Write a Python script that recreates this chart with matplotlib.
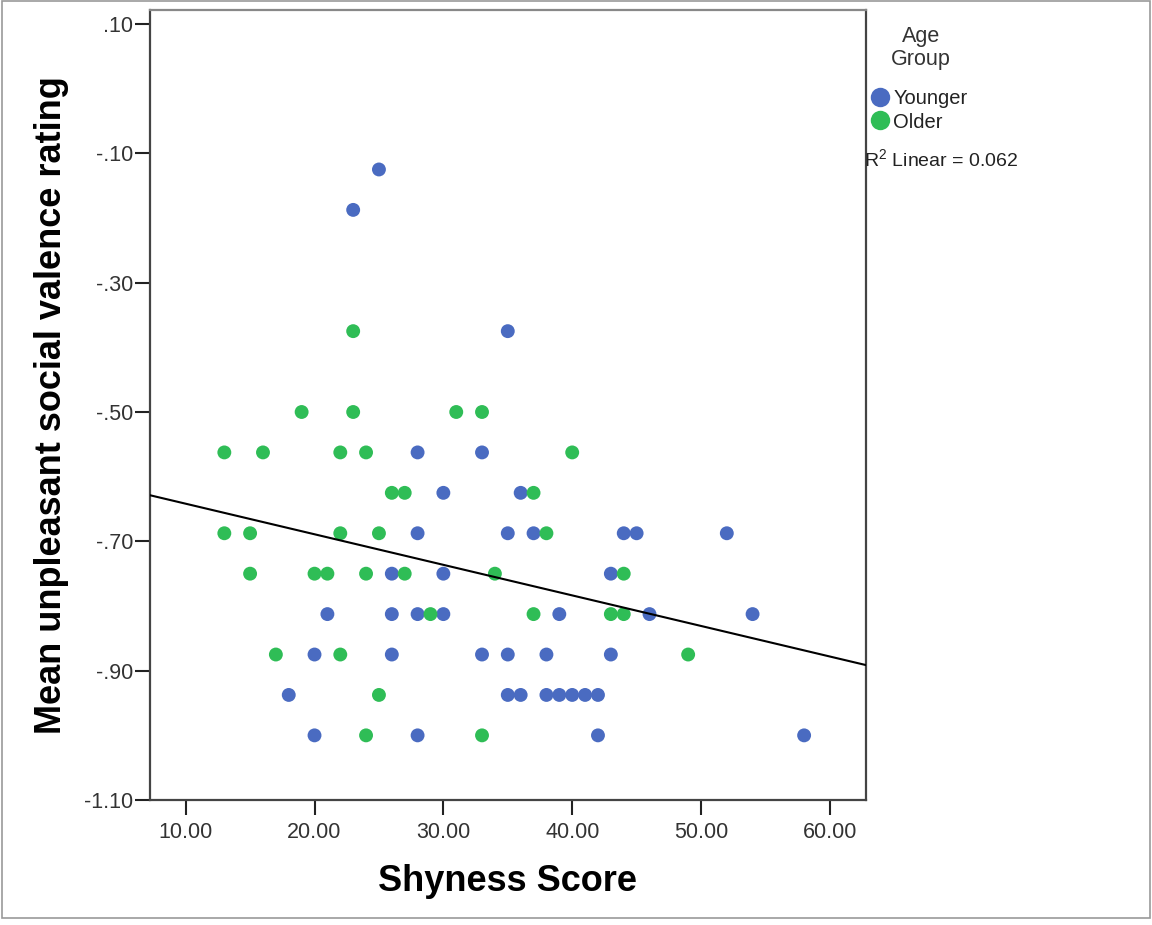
import numpy as np
import matplotlib
matplotlib.use('Agg')
import matplotlib.pyplot as plt
from matplotlib.lines import Line2D
from matplotlib.patches import Rectangle

plt.rcParams['font.family'] = ['Liberation Sans', 'DejaVu Sans']
plt.rcParams['mathtext.fontset'] = 'custom'
plt.rcParams['mathtext.rm'] = 'Liberation Sans'

# Younger group: shyness score vs mean unpleasant social valence rating
younger_x = [25, 23, 35,
             28, 33,
             30, 36,
             28, 35, 37, 44, 45, 52,
             26, 30, 43,
             21, 26, 28, 30, 39, 46, 54,
             20, 26, 33, 35, 38, 43,
             18, 35, 36, 38, 39, 40, 41, 42,
             20, 28, 42, 58]
younger_y = [-0.125, -0.1875, -0.375,
             -0.5625, -0.5625,
             -0.625, -0.625,
             -0.6875, -0.6875, -0.6875, -0.6875, -0.6875, -0.6875,
             -0.75, -0.75, -0.75,
             -0.8125, -0.8125, -0.8125, -0.8125, -0.8125, -0.8125, -0.8125,
             -0.875, -0.875, -0.875, -0.875, -0.875, -0.875,
             -0.9375, -0.9375, -0.9375, -0.9375, -0.9375, -0.9375, -0.9375, -0.9375,
             -1.0, -1.0, -1.0, -1.0]

# Older group
older_x = [23,
           19, 23, 31, 33,
           13, 16, 22, 24, 40,
           26, 27, 37,
           13, 15, 22, 25, 38,
           15, 20, 21, 24, 27, 34, 44,
           29, 37, 43, 44,
           17, 22, 49,
           25,
           24, 33]
older_y = [-0.375,
           -0.5, -0.5, -0.5, -0.5,
           -0.5625, -0.5625, -0.5625, -0.5625, -0.5625,
           -0.625, -0.625, -0.625,
           -0.6875, -0.6875, -0.6875, -0.6875, -0.6875,
           -0.75, -0.75, -0.75, -0.75, -0.75, -0.75, -0.75,
           -0.8125, -0.8125, -0.8125, -0.8125,
           -0.875, -0.875, -0.875,
           -0.9375,
           -1.0, -1.0]

x_ticks = [10, 20, 30, 40, 50, 60]
x_ticklabels = ['10.00', '20.00', '30.00', '40.00', '50.00', '60.00']
y_ticks = [0.10, -0.10, -0.30, -0.50, -0.70, -0.90, -1.10]
y_ticklabels = ['.10', '-.10', '-.30', '-.50', '-.70', '-.90', '-1.10']

blue = '#4A6BC1'
green = '#2FBD56'

fig = plt.figure(figsize=(11.52, 9.25), dpi=100)
ax = fig.add_axes([0.1302, 0.1351, 0.6215, 0.8541])

xlim = (7.23, 62.8)
ylim = (-1.10, 0.1216)

ax.scatter(younger_x, younger_y, s=100, color=blue, edgecolors='none', zorder=3)
ax.scatter(older_x, older_y, s=100, color=green, edgecolors='none', zorder=3)

# linear fit over all points
all_x = np.array(younger_x + older_x, dtype=float)
all_y = np.array(younger_y + older_y, dtype=float)
slope, intercept = np.polyfit(all_x, all_y, 1)
line_x = np.array(xlim)
ax.plot(line_x, slope * line_x + intercept, color='black', lw=1.5, zorder=4)

ax.set_xlim(*xlim)
ax.set_ylim(*ylim)
ax.set_xticks(x_ticks)
ax.set_xticklabels(x_ticklabels)
ax.set_yticks(y_ticks)
ax.set_yticklabels(y_ticklabels)
ax.tick_params(axis='both', direction='out', length=11, width=1.5, color='#222222',
               labelsize=15.5, labelcolor='#333333')
ax.tick_params(axis='x', pad=5)
ax.tick_params(axis='y', pad=1)

for side in ['left', 'bottom', 'right']:
    ax.spines[side].set_color('#444444')
    ax.spines[side].set_linewidth(1.6)
ax.spines['top'].set_color('#888888')
ax.spines['top'].set_linewidth(1.6)

ax.set_xlabel('Shyness Score', fontsize=26, fontweight='bold', labelpad=15)
ax.set_ylabel('Mean unpleasant social valence rating', fontsize=26,
              fontweight='bold', labelpad=11)

# legend title drawn separately so it can sit higher than the entries
fig.text(921 / 1152, 1 - 48 / 925, 'Age\nGroup', fontsize=15.5, color='#333333',
         ha='center', va='center', multialignment='center', linespacing=1.12)

handles = [Line2D([], [], marker='o', ls='none', color=blue, markersize=14, markeredgewidth=0),
           Line2D([], [], marker='o', ls='none', color=green, markersize=14, markeredgewidth=0)]
leg = fig.legend(handles, ['Younger', 'Older'], loc='upper left',
                 bbox_to_anchor=(857 / 1152, 1 - 79 / 925), frameon=False,
                 fontsize=14.5, handletextpad=0.0,
                 labelspacing=0.22, borderpad=0.0, handlelength=1.3)
for t in leg.get_texts():
    t.set_color('#222222')

fig.text(864 / 1152, 1 - 160 / 925, 'R$^{2}$ Linear = 0.062', fontsize=14,
         color='#222222', va='center', ha='left')

fig.patches.append(Rectangle((2 / 1152, 1 - 918 / 925), 1148 / 1152, 917 / 925,
                             transform=fig.transFigure, fill=False,
                             edgecolor='#999999', lw=1.2))

fig.savefig('out.png', dpi=100)
